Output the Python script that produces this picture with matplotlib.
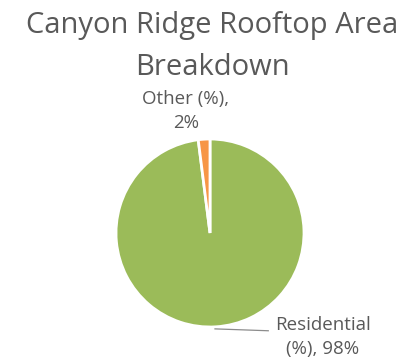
import matplotlib
matplotlib.use("Agg")
import matplotlib.pyplot as plt

title = "Canyon Ridge Rooftop Area\nBreakdown"
categories = ["Residential (%)", "Other (%)"]
values = [98, 2]
colors = ["#9BBB59", "#F79646"]

W, H, DPI = 408, 364, 100
fig = plt.figure(figsize=(W / DPI, H / DPI), dpi=DPI)
fig.patch.set_facecolor("white")

R = 94.0  # radius in px
cx, cy = 210.0, 233.0
half = 1.6 * R
ax = fig.add_axes([(cx - half) / W, (H - cy - half) / H, 2 * half / W, 2 * half / H])

ax.pie(values, colors=colors, startangle=90, counterclock=False,
       wedgeprops=dict(edgecolor="white", linewidth=2.0), radius=1.0,
       center=(0, 0), frame=False)
ax.set_xlim(-1.6, 1.6)
ax.set_ylim(-1.6, 1.6)
ax.set_aspect("auto")
ax.axis("off")

font = "Open Sans"
tc = "#595959"
ax.text(-0.255, 1.30, f"Other (%),\n{values[1]}%", ha="center", va="center",
        fontsize=13.5, color=tc, family=font, linespacing=1.45)
ax.text(1.20, -1.106, f"Residential\n(%), {values[0]}%", ha="center", va="center",
        fontsize=13.5, color=tc, family=font, linespacing=1.45)
ax.plot([0.053, 0.62], [-1.02, -1.04], color="#8C8C8C", lw=0.9)

fig.text(212 / W, 1 - 46.5 / H, title, ha="center", va="center", fontsize=21,
         color=tc, family=font, linespacing=1.6)

fig.savefig("out.png", dpi=DPI)
